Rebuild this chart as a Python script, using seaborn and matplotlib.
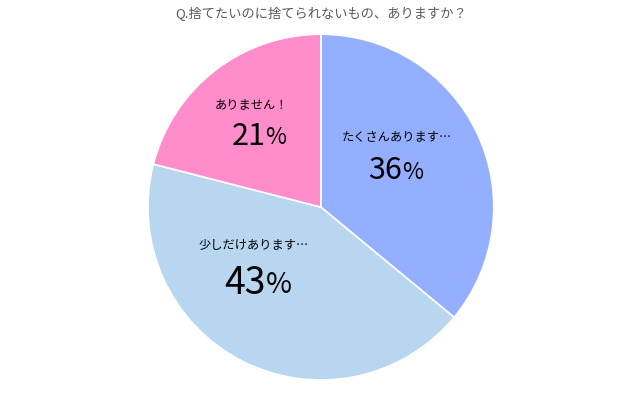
import matplotlib
matplotlib.use("Agg")
import matplotlib.pyplot as plt
import seaborn as sns

title = "Q.捨てたいのに捨てられないもの、ありますか？"
categories = ["たくさんあります…", "少しだけあります…", "ありません！"]
values = [36, 43, 21]
colors = ["#94AFFF", "#B8D6F0", "#FF8CCB"]

sns.set_theme(style="white")
plt.rcParams["font.family"] = ["Noto Sans CJK JP", "DejaVu Sans"]

fig = plt.figure(figsize=(6.43, 3.93), dpi=100)
ax = fig.add_axes([0.230, 0.033, 0.538, 0.880])
ax.pie(values, colors=colors, startangle=90, counterclock=False,
       wedgeprops=dict(edgecolor="white", linewidth=1.2))
ax.set_xlim(-1, 1)
ax.set_ylim(-1, 1)
ax.set_aspect("equal")

# label placement (axes-data units, center = 0,0), pct font size
label_pos = [(0.44, 0.40), (-0.39, -0.22), (-0.40, 0.59)]
pct_pos = [(0.42, 0.21), (-0.37, -0.44), (-0.37, 0.41)]
pct_size = [22, 27, 22]

for cat, v, (lx, ly), (px, py), fs in zip(categories, values, label_pos, pct_pos, pct_size):
    ax.text(lx, ly, cat, ha="center", va="center", fontsize=8.8, color="black")
    ax.text(px + 0.05, py, str(v), ha="right", va="center", fontsize=fs, color="black")
    ax.text(px + 0.05, py - 0.01, "%", ha="left", va="center", fontsize=fs * 0.75,
            color="black")

fig.text(0.5, 0.965, title, ha="center", va="center", fontsize=9.5, color="#595959")

fig.savefig("out.png", dpi=100)
